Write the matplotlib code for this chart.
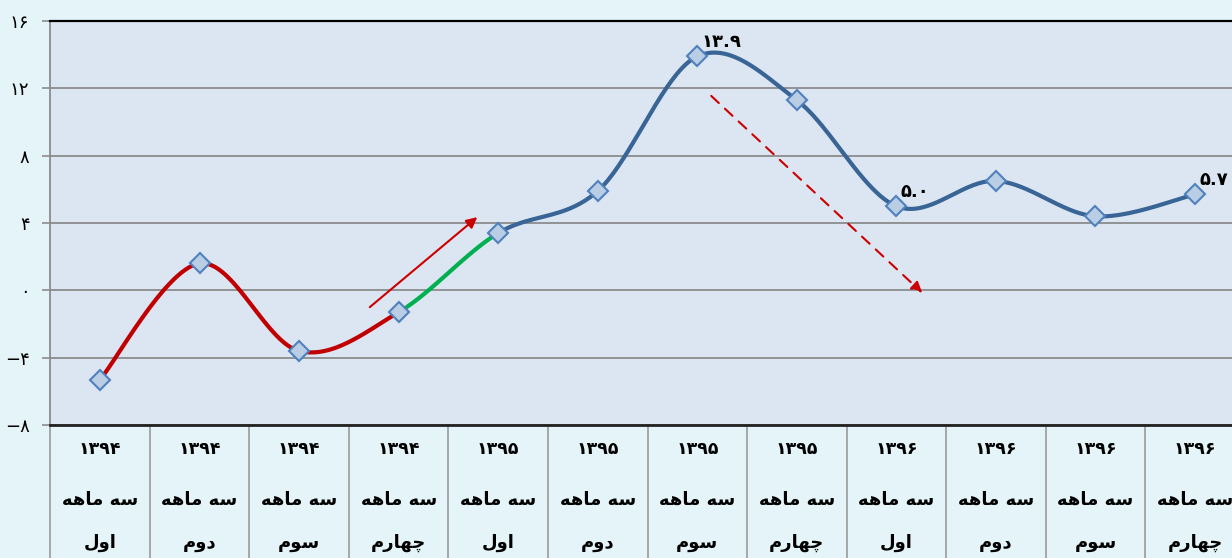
import numpy as np
import matplotlib
matplotlib.use('Agg')
import matplotlib.pyplot as plt
import matplotlib.transforms as mtransforms

plt.rcParams['font.family'] = ['DejaVu Sans']

# ------------------------------------------------------------------ data
years = ['۱۳۹۴', '۱۳۹۴', '۱۳۹۴', '۱۳۹۴', '۱۳۹۵', '۱۳۹۵', '۱۳۹۵', '۱۳۹۵',
         '۱۳۹۶', '۱۳۹۶', '۱۳۹۶', '۱۳۹۶']
quarter_word = 'سه ماهه'
quarters = ['اول', 'دوم', 'سوم', 'چهارم'] * 3
values = [-5.3, 1.6, -3.6, -1.3, 3.4, 5.9, 13.9, 11.3, 5.0, 6.5, 4.4, 5.7]
shown_labels = {6: '۱۳.۹', 8: '۵.۰', 11: '۵.۷'}
yticks = [-8, -4, 0, 4, 8, 12, 16]
yticklabels = ['−۸', '−۴', '۰', '۴', '۸', '۱۲', '۱۶']
red_part = (0, 3)
green_part = (3, 4)
blue_part = (4, 11)
# trend arrows (x in category index, y in value units)
up_arrow = ((2.71, -1.0), (3.79, 4.35))
down_arrow = ((6.14, 11.55), (8.26, -0.15))

# ------------------------------------------------------------------ persian shaping (no raqm in matplotlib)
forms = {  # iso, fin, ini, med
    'ا': ('\uFE8D', '\uFE8E', None, None),
    'د': ('\uFEA9', '\uFEAA', None, None),
    'ر': ('\uFEAD', '\uFEAE', None, None),
    'و': ('\uFEED', '\uFEEE', None, None),
    'ل': ('\uFEDD', '\uFEDE', '\uFEDF', '\uFEE0'),
    'س': ('\uFEB1', '\uFEB2', '\uFEB3', '\uFEB4'),
    'م': ('\uFEE1', '\uFEE2', '\uFEE3', '\uFEE4'),
    'ه': ('\uFEE9', '\uFEEA', '\uFEEB', '\uFEEC'),
    'چ': ('\uFB7A', '\uFB7B', '\uFB7C', '\uFB7D'),
}


def shape(s):
    out = []
    for i, c in enumerate(s):
        if c not in forms:
            out.append(c)
            continue
        prev = s[i - 1] if i > 0 else ''
        nxt = s[i + 1] if i + 1 < len(s) else ''
        join_prev = prev in forms and forms[prev][2] is not None
        join_next = nxt in forms and forms[c][2] is not None
        f = forms[c]
        if join_prev and join_next:
            out.append(f[3])
        elif join_prev:
            out.append(f[1])
        elif join_next:
            out.append(f[2])
        else:
            out.append(f[0])
    return ''.join(out[::-1])


def catmull(xs, ys, n=40):
    px = np.concatenate([[xs[0]], xs, [xs[-1]]])
    py = np.concatenate([[ys[0]], ys, [ys[-1]]])
    segs = []
    t = np.linspace(0, 1, n)
    for i in range(1, len(px) - 2):
        p0, p1, p2, p3 = (np.array([px[j], py[j]]) for j in range(i - 1, i + 3))
        c1 = p1 + (p2 - p0) / 6
        c2 = p2 - (p3 - p1) / 6
        b = ((1 - t) ** 3)[:, None] * p1 + (3 * (1 - t) ** 2 * t)[:, None] * c1 \
            + (3 * (1 - t) * t ** 2)[:, None] * c2 + (t ** 3)[:, None] * p2
        segs.append(b)
    return segs


# ------------------------------------------------------------------ figure
fig = plt.figure(figsize=(12.32, 5.58), dpi=100)
fig.patch.set_facecolor('#e5f4f8')
ax = fig.add_axes([50.25 / 1232, 1 - 425 / 558, 1194.5 / 1232, 404 / 558])
ax.set_facecolor('#dce6f2')

x = np.arange(len(values))
segs = catmull(x.astype(float), np.array(values, dtype=float))

for (a, b), col in [(red_part, '#c00000'), (green_part, '#00b050'), (blue_part, '#386496')]:
    pts = np.vstack(segs[a:b])
    ax.plot(pts[:, 0], pts[:, 1], color=col, lw=3.0, solid_capstyle='round', zorder=3)

ax.plot(x, values, ls='none', marker='D', ms=10.5, mfc='#b9cde5', mec='#4f81bd',
        mew=1.5, zorder=4)

for i, lab in shown_labels.items():
    ax.annotate(lab, (x[i], values[i]), xytext=(3, 4), textcoords='offset points',
                ha='left', va='bottom', fontsize=13, fontweight='bold', color='black', zorder=5)

ax.annotate('', xy=up_arrow[1], xytext=up_arrow[0],
            arrowprops=dict(arrowstyle='-|>', color='#cc0000', lw=1.5,
                            mutation_scale=16, shrinkA=0, shrinkB=0), zorder=2)
ax.annotate('', xy=down_arrow[1], xytext=down_arrow[0],
            arrowprops=dict(arrowstyle='-|>', color='#cc0000', lw=1.5, ls=(0, (5, 4)),
                            mutation_scale=16, shrinkA=0, shrinkB=0), zorder=2)

ax.set_xlim(-0.5, len(values) - 0.5)
ax.set_ylim(-8, 16)
ax.set_yticks(yticks)
ax.set_yticklabels(yticklabels, fontsize=13)
ax.set_xticks([])
ax.yaxis.grid(True, color='#8c8c8c', lw=1.3)
ax.set_axisbelow(True)
ax.tick_params(axis='y', length=6, width=1.2, color='#8c8c8c', pad=9)

ax.spines['right'].set_visible(False)
ax.spines['left'].set_color('#8c8c8c')
ax.spines['left'].set_linewidth(1.3)
ax.spines['top'].set_color('black')
ax.spines['top'].set_linewidth(1.6)
ax.spines['bottom'].set_color('#222222')
ax.spines['bottom'].set_linewidth(2.0)

# category table under the axis
trans = mtransforms.blended_transform_factory(ax.transData, ax.transAxes)
for b in np.arange(-0.5, len(values), 1.0):
    ax.plot([b, b], [0, -0.34], transform=trans, color='#9a9a9a', lw=1.2, clip_on=False)
for i in range(len(values)):
    ax.text(x[i], -0.06, years[i], transform=trans, ha='center', va='center',
            fontsize=12.5, fontweight='bold')
    ax.text(x[i], -0.186, shape(quarter_word), transform=trans, ha='center', va='center',
            fontsize=13, fontweight='bold')
    ax.text(x[i], -0.292, shape(quarters[i]), transform=trans, ha='center', va='center',
            fontsize=13, fontweight='bold')

fig.savefig('out.png', dpi=100, facecolor=fig.get_facecolor())
